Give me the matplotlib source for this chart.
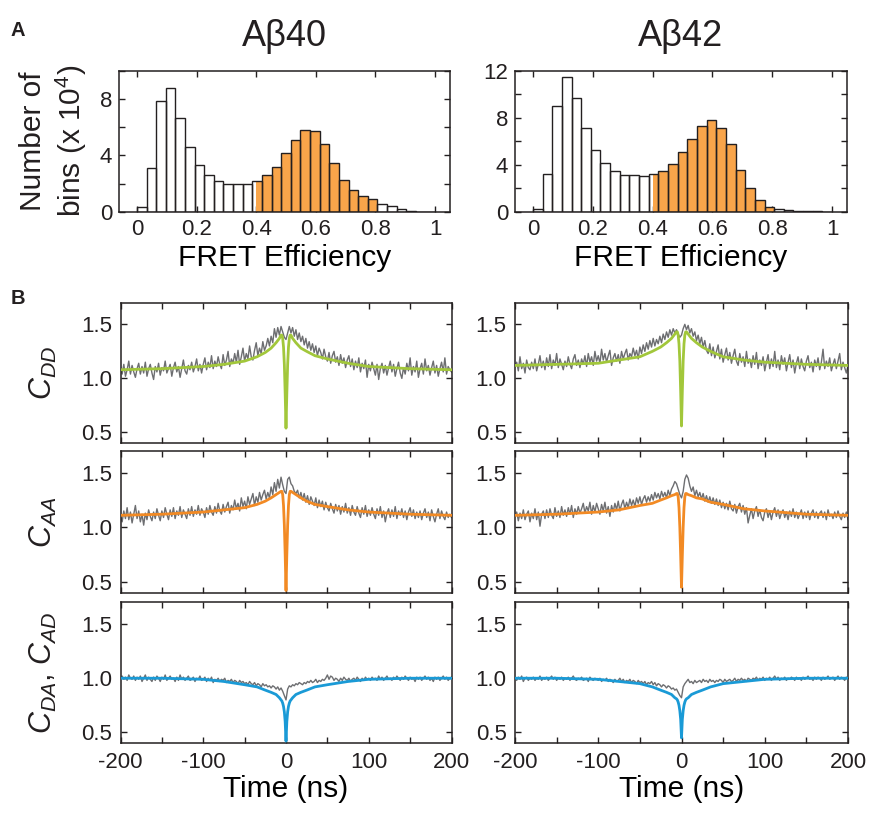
import numpy as np
import matplotlib
matplotlib.use('Agg')
import matplotlib.pyplot as plt
from matplotlib.patches import Rectangle

plt.rcParams.update({
    'font.family': ['Liberation Sans', 'DejaVu Sans'],
    'mathtext.fontset': 'custom',
    'mathtext.rm': 'Liberation Sans',
    'mathtext.it': 'Liberation Sans:italic',
    'axes.linewidth': 1.1,
    'axes.edgecolor': '#231f20',
    'xtick.color': '#231f20',
    'ytick.color': '#231f20',
})

# ---- panel A: FRET efficiency histograms (counts x 10^4, 31 bins on [0, 1]) ----
n_bins = 31
counts_ab40 = [0.33, 3.1, 7.85, 8.8, 6.65, 4.6, 3.3, 2.6, 2.2, 2.0, 2.0, 2.0, 2.2, 2.6, 3.2, 4.2,
               5.1, 5.8, 5.7, 4.8, 3.5, 2.25, 1.55, 1.15, 0.9, 0.6, 0.4, 0.2, 0.1, 0.0, 0.0]
counts_ab42 = [0.25, 3.2, 9.0, 11.45, 9.65, 7.1, 5.25, 4.15, 3.45, 3.15, 3.1, 3.05, 3.2, 3.5, 4.1, 5.1,
               6.2, 7.3, 7.85, 7.15, 5.75, 3.6, 2.0, 1.0, 0.45, 0.22, 0.15, 0.1, 0.05, 0.05, 0.0]
high_fret = (0.40, 0.806)

# ---- panel B: correlation traces, 2 ns steps from -200 to 200 ns ----
time_ns = np.arange(-200, 201, 2)

cdd_ab40 = [
    1.10, 1.04, 1.13, 1.02, 1.08, 1.16, 1.04, 1.12, 1.06, 1.01,
    1.09, 1.14, 1.04, 1.11, 1.05, 1.15, 1.02, 1.09, 1.13, 1.05,
    0.99, 1.11, 1.06, 1.14, 1.03, 1.10, 1.07, 1.16, 1.05, 1.09,
    1.13, 1.02, 1.10, 1.15, 1.06, 1.11, 1.01, 1.09, 1.17, 1.07,
    1.04, 1.12, 1.08, 1.15, 1.06, 1.11, 1.18, 1.07, 1.13, 1.05,
    1.13, 1.19, 1.08, 1.15, 1.10, 1.21, 1.09, 1.16, 1.11, 1.20,
    1.13, 1.09, 1.22, 1.12, 1.17, 1.25, 1.11, 1.18, 1.14, 1.23,
    1.15, 1.26, 1.13, 1.20, 1.28, 1.16, 1.23, 1.18, 1.30, 1.20,
    1.17, 1.26, 1.33, 1.21, 1.28, 1.23, 1.34, 1.26, 1.30, 1.37,
    1.30, 1.39, 1.33, 1.46, 1.38, 1.47, 1.40, 1.48, 1.43, 1.38,
    1.36,
    1.42, 1.48, 1.42, 1.47, 1.39, 1.45, 1.36, 1.42, 1.34, 1.39,
    1.31, 1.37, 1.28, 1.34, 1.26, 1.32, 1.24, 1.30, 1.21, 1.28,
    1.24, 1.18, 1.27, 1.20, 1.16, 1.24, 1.14, 1.21, 1.25, 1.15,
    1.20, 1.12, 1.22, 1.14, 1.19, 1.10, 1.17, 1.21, 1.11, 1.18,
    1.08, 1.16, 1.10, 1.19, 1.06, 1.14, 1.09, 1.17, 1.01, 1.13,
    1.07, 1.15, 1.09, 1.03, 1.13, 0.99, 1.09, 1.14, 1.05, 1.12,
    1.03, 1.10, 1.16, 1.06, 1.13, 1.02, 1.09, 1.15, 1.05, 1.00,
    1.10, 1.04, 1.14, 1.07, 1.19, 1.03, 1.11, 1.06, 1.16, 1.01,
    1.09, 1.14, 1.04, 1.18, 1.07, 1.12, 1.03, 1.10, 1.16, 1.05,
    1.12, 1.02, 1.09, 1.15, 1.06, 1.19, 1.04, 1.11, 1.08, 1.06,
]
cdd_ab42 = [
    1.11, 1.15, 1.07, 1.20, 1.09, 1.14, 1.05, 1.17, 1.10, 1.08,
    1.15, 1.09, 1.18, 1.07, 1.13, 1.21, 1.10, 1.16, 1.08, 1.19,
    1.11, 1.22, 1.09, 1.17, 1.12, 1.23, 1.10, 1.18, 1.13, 1.08,
    1.16, 1.11, 1.20, 1.13, 1.09, 1.18, 1.22, 1.12, 1.17, 1.10,
    1.18, 1.13, 1.21, 1.11, 1.23, 1.15, 1.20, 1.12, 1.25, 1.16,
    1.21, 1.14, 1.27, 1.17, 1.23, 1.15, 1.21, 1.26, 1.12, 1.19,
    1.23, 1.16, 1.22, 1.14, 1.25, 1.18, 1.23, 1.27, 1.17, 1.23,
    1.20, 1.28, 1.21, 1.26, 1.18, 1.29, 1.23, 1.31, 1.25, 1.33,
    1.27, 1.35, 1.29, 1.37, 1.30, 1.36, 1.32, 1.39, 1.33, 1.41,
    1.36, 1.43, 1.38, 1.45, 1.40, 1.46, 1.42, 1.45, 1.41, 1.38,
    1.40,
    1.46, 1.50, 1.45, 1.49, 1.42, 1.46, 1.39, 1.43, 1.35, 1.40,
    1.32, 1.38, 1.29, 1.35, 1.26, 1.23, 1.32, 1.21, 1.29, 1.19,
    1.25, 1.31, 1.18, 1.27, 1.15, 1.22, 1.28, 1.17, 1.24, 1.14,
    1.21, 1.27, 1.16, 1.12, 1.23, 1.15, 1.20, 1.11, 1.25, 1.14,
    1.18, 1.10, 1.21, 1.13, 1.24, 1.09, 1.17, 1.12, 1.20, 1.07,
    1.15, 1.22, 1.09, 1.18, 1.11, 1.25, 1.10, 1.17, 1.08, 1.21,
    1.13, 1.19, 1.07, 1.15, 1.22, 1.10, 1.17, 1.05, 1.14, 1.20,
    1.09, 1.18, 1.11, 1.07, 1.16, 1.21, 1.10, 1.15, 1.06, 1.17,
    1.11, 1.19, 1.08, 1.15, 1.27, 1.09, 1.16, 1.11, 1.19, 1.07,
    1.13, 1.18, 1.09, 1.16, 1.23, 1.08, 1.15, 1.10, 1.05, 1.12,
]
caa_ab40 = [
    1.10, 1.05, 1.15, 1.08, 1.18, 1.07, 1.14, 1.04, 1.12, 1.20,
    1.08, 1.15, 1.05, 1.12, 1.02, 1.13, 1.07, 1.16, 1.10, 1.06,
    1.14, 1.08, 1.17, 1.11, 1.06, 1.15, 1.09, 1.18, 1.12, 1.07,
    1.16, 1.10, 1.18, 1.08, 1.15, 1.11, 1.19, 1.09, 1.16, 1.12,
    1.08, 1.17, 1.11, 1.19, 1.10, 1.16, 1.12, 1.20, 1.11, 1.17,
    1.14, 1.09, 1.18, 1.12, 1.20, 1.14, 1.11, 1.19, 1.13, 1.22,
    1.15, 1.12, 1.21, 1.14, 1.19, 1.23, 1.13, 1.20, 1.16, 1.25,
    1.17, 1.22, 1.15, 1.27, 1.19, 1.24, 1.17, 1.28, 1.21, 1.26,
    1.31, 1.20, 1.28, 1.23, 1.32, 1.25, 1.30, 1.34, 1.26, 1.32,
    1.27, 1.37, 1.30, 1.41, 1.33, 1.44, 1.36, 1.46, 1.39, 1.33,
    1.31,
    1.44, 1.46, 1.40, 1.38, 1.33, 1.31, 1.34, 1.27, 1.32, 1.25,
    1.31, 1.23, 1.29, 1.21, 1.28, 1.24, 1.20, 1.27, 1.18, 1.25,
    1.19, 1.24, 1.16, 1.23, 1.18, 1.15, 1.22, 1.17, 1.13, 1.21,
    1.15, 1.20, 1.12, 1.19, 1.14, 1.22, 1.13, 1.18, 1.11, 1.20,
    1.14, 1.11, 1.19, 1.13, 1.09, 1.18, 1.12, 1.20, 1.10, 1.16,
    1.11, 1.18, 1.12, 1.08, 1.17, 1.11, 1.19, 1.09, 1.15, 1.05,
    1.13, 1.17, 1.09, 1.16, 1.10, 1.19, 1.08, 1.15, 1.11, 1.17,
    1.09, 1.15, 1.07, 1.14, 1.18, 1.10, 1.16, 1.08, 1.14, 1.09,
    1.15, 1.07, 1.13, 1.17, 1.09, 1.14, 1.06, 1.16, 1.10, 1.05,
    1.12, 1.17, 1.08, 1.15, 1.10, 1.07, 1.14, 1.09, 1.12, 1.09,
]
caa_ab42 = [
    1.10, 1.14, 1.06, 1.13, 1.08, 1.16, 1.07, 1.12, 1.15, 1.05,
    1.13, 1.08, 1.17, 1.07, 1.14, 1.01, 1.12, 1.15, 1.08, 1.16,
    1.09, 1.17, 1.11, 1.08, 1.18, 1.10, 1.15, 1.09, 1.19, 1.11,
    1.16, 1.10, 1.18, 1.12, 1.20, 1.09, 1.17, 1.12, 1.19, 1.13,
    1.17, 1.22, 1.13, 1.19, 1.15, 1.23, 1.12, 1.20, 1.14, 1.22,
    1.17, 1.12, 1.21, 1.15, 1.23, 1.13, 1.19, 1.10, 1.20, 1.14,
    1.22, 1.16, 1.24, 1.15, 1.21, 1.25, 1.17, 1.23, 1.18, 1.26,
    1.20, 1.25, 1.19, 1.27, 1.22, 1.28, 1.21, 1.26, 1.29, 1.23,
    1.28, 1.24, 1.30, 1.25, 1.32, 1.27, 1.31, 1.26, 1.33, 1.28,
    1.32, 1.27, 1.34, 1.29, 1.35, 1.38, 1.42, 1.40, 1.35, 1.30,
    1.27,
    1.33, 1.44, 1.48, 1.45, 1.38, 1.33, 1.37, 1.29, 1.34, 1.28,
    1.32, 1.26, 1.31, 1.24, 1.29, 1.23, 1.28, 1.22, 1.27, 1.21,
    1.26, 1.20, 1.25, 1.18, 1.23, 1.17, 1.22, 1.16, 1.24, 1.17,
    1.15, 1.21, 1.13, 1.19, 1.22, 1.14, 1.20, 1.12, 1.18, 1.04,
    1.11, 1.17, 1.08, 1.15, 1.19, 1.10, 1.16, 1.09, 1.06, 1.14,
    1.17, 1.09, 1.15, 1.07, 1.14, 1.18, 1.10, 1.16, 1.08, 1.13,
    1.16, 1.09, 1.14, 1.07, 1.15, 1.10, 1.17, 1.09, 1.14, 1.08,
    1.12, 1.16, 1.08, 1.14, 1.09, 1.15, 1.07, 1.13, 1.16, 1.09,
    1.14, 1.08, 1.13, 1.15, 1.09, 1.14, 1.07, 1.16, 1.10, 1.12,
    1.08, 1.14, 1.09, 1.15, 1.10, 1.07, 1.13, 1.09, 1.14, 1.07,
]
cda_ab40 = [
    1.00, 1.02, 0.99, 1.01, 0.98, 1.03, 1.00, 0.99, 1.02, 0.98,
    1.01, 0.99, 1.02, 0.97, 1.00, 1.03, 0.98, 1.01, 0.99, 0.97,
    1.01, 0.98, 1.02, 1.00, 0.97, 1.01, 0.99, 1.03, 0.98, 1.00,
    1.02, 0.99, 1.00, 0.97, 1.01, 0.98, 1.03, 0.99, 1.01, 0.98,
    1.00, 1.02, 0.98, 0.99, 1.01, 0.97, 1.00, 0.99, 1.02, 0.98,
    0.99, 1.01, 0.97, 1.00, 0.98, 1.01, 0.96, 0.99, 0.98, 1.00,
    0.97, 0.99, 0.98, 1.00, 0.96, 0.98, 0.97, 0.99, 0.96, 0.98,
    0.97, 0.95, 0.98, 0.96, 0.97, 0.95, 0.96, 0.94, 0.97, 0.95,
    0.94, 0.96, 0.93, 0.95, 0.94, 0.92, 0.95, 0.93, 0.94, 0.92,
    0.93, 0.91, 0.93, 0.92, 0.90, 0.92, 0.89, 0.91, 0.88, 0.84,
    0.80,
    0.90, 0.93, 0.92, 0.94, 0.93, 0.95, 0.94, 0.96, 0.95, 0.94,
    0.96, 0.95, 0.97, 0.96, 0.98, 0.96, 0.97, 0.99, 0.96, 0.98,
    0.97, 0.99, 0.98, 1.00, 1.03, 0.99, 1.02, 1.01, 0.98, 1.00,
    0.99, 0.97, 1.00, 0.98, 1.01, 0.99, 0.98, 1.00, 0.97, 0.99,
    1.00, 0.98, 1.01, 0.99, 0.97, 1.00, 0.98, 1.01, 0.99, 1.00,
    0.98, 1.01, 0.99, 1.00, 0.98, 1.02, 0.99, 1.01, 0.98, 1.00,
    1.02, 0.99, 1.00, 0.98, 1.01, 0.99, 1.02, 1.00, 0.98, 1.01,
    0.99, 1.02, 1.00, 0.98, 1.01, 0.99, 1.00, 0.97, 1.01, 0.99,
    1.01, 0.98, 1.00, 1.02, 0.99, 1.01, 0.98, 1.00, 0.97, 1.01,
    0.99, 1.01, 0.98, 1.00, 1.02, 0.99, 1.01, 0.98, 1.00, 1.01,
]
cda_ab42 = [
    1.00, 0.98, 1.01, 0.99, 1.02, 0.97, 1.00, 1.01, 0.98, 1.00,
    0.99, 1.01, 0.98, 1.00, 0.99, 1.02, 0.98, 1.00, 0.99, 1.01,
    0.98, 1.00, 1.02, 0.99, 1.01, 0.98, 1.00, 0.99, 1.01, 0.98,
    1.00, 0.99, 1.01, 0.98, 1.00, 1.02, 0.99, 0.98, 1.00, 0.99,
    1.01, 0.98, 0.99, 1.00, 0.97, 1.01, 0.99, 0.98, 1.00, 0.99,
    0.98, 1.00, 0.97, 0.99, 0.98, 1.00, 0.97, 0.99, 0.98, 0.96,
    0.99, 0.97, 0.98, 1.00, 0.97, 0.99, 0.96, 0.98, 0.97, 0.99,
    0.96, 0.98, 0.97, 0.95, 0.98, 0.96, 0.97, 0.95, 0.97, 0.94,
    0.96, 0.95, 0.97, 0.94, 0.96, 0.93, 0.95, 0.94, 0.92, 0.94,
    0.93, 0.91, 0.93, 0.92, 0.90, 0.91, 0.89, 0.90, 0.87, 0.84,
    0.82,
    0.92, 0.95, 0.97, 0.99, 0.96, 0.97, 0.95, 0.98, 0.96, 0.97,
    0.98, 0.96, 0.99, 0.97, 0.98, 0.96, 0.99, 0.97, 0.98, 0.96,
    0.98, 0.97, 0.99, 0.98, 0.96, 0.99, 0.97, 0.98, 0.99, 0.97,
    0.98, 1.00, 0.97, 0.99, 0.98, 1.00, 0.98, 0.99, 0.97, 1.00,
    0.99, 0.98, 1.00, 0.99, 1.01, 0.98, 1.00, 0.99, 1.01, 0.98,
    1.00, 0.99, 1.01, 0.98, 1.00, 1.02, 0.99, 1.01, 0.98, 1.00,
    0.99, 1.01, 0.98, 1.00, 0.99, 1.01, 1.00, 0.98, 1.01, 0.99,
    1.00, 0.98, 1.01, 0.99, 1.00, 1.02, 0.99, 1.00, 0.98, 1.01,
    0.99, 1.01, 1.00, 0.98, 1.01, 0.99, 1.00, 1.02, 0.99, 1.00,
    1.01, 0.98, 1.00, 1.02, 0.99, 1.01, 1.00, 0.98, 1.01, 1.00,
]

# fitted curves, sampled at these times (ns)
fit_time = [-200, -150, -100, -75, -50, -35, -25, -18, -12, -8, -6, -5, -4, -3, -2, -1, 0,
            1, 2, 3, 4, 5, 6, 8, 12, 18, 25, 35, 50, 75, 100, 150, 200]
fit_cdd_ab40 = [1.08, 1.09, 1.11, 1.13, 1.16, 1.20, 1.24, 1.28, 1.33, 1.37, 1.40, 1.40, 1.37, 1.29, 1.13, 0.86, 0.54,
                0.86, 1.13, 1.29, 1.37, 1.40, 1.40, 1.37, 1.33, 1.28, 1.25, 1.21, 1.18, 1.14, 1.11, 1.09, 1.08]
fit_cdd_ab42 = [1.12, 1.13, 1.14, 1.17, 1.20, 1.25, 1.29, 1.33, 1.37, 1.41, 1.43, 1.43, 1.40, 1.32, 1.16, 0.88, 0.56,
                0.88, 1.16, 1.32, 1.40, 1.43, 1.43, 1.41, 1.37, 1.33, 1.29, 1.25, 1.20, 1.17, 1.15, 1.13, 1.12]
fit_caa_ab40 = [1.11, 1.12, 1.14, 1.16, 1.18, 1.21, 1.24, 1.27, 1.30, 1.32, 1.33, 1.33, 1.30, 1.20, 1.02, 0.75, 0.42,
                0.75, 1.02, 1.20, 1.30, 1.33, 1.33, 1.32, 1.30, 1.27, 1.24, 1.21, 1.19, 1.16, 1.14, 1.12, 1.11]
fit_caa_ab42 = [1.11, 1.12, 1.14, 1.16, 1.20, 1.22, 1.25, 1.27, 1.29, 1.30, 1.31, 1.31, 1.28, 1.18, 1.00, 0.74, 0.45,
                0.74, 1.00, 1.18, 1.28, 1.31, 1.31, 1.30, 1.29, 1.27, 1.26, 1.23, 1.21, 1.17, 1.15, 1.12, 1.11]
fit_cda_ab40 = [1.00, 1.00, 0.99, 0.97, 0.94, 0.92, 0.89, 0.87, 0.85, 0.82, 0.80, 0.79, 0.77, 0.74, 0.69, 0.60, 0.42,
                0.60, 0.69, 0.74, 0.77, 0.79, 0.80, 0.82, 0.85, 0.87, 0.89, 0.92, 0.94, 0.97, 0.99, 1.00, 1.00]
fit_cda_ab42 = [1.00, 1.00, 0.99, 0.97, 0.95, 0.92, 0.89, 0.87, 0.85, 0.82, 0.81, 0.80, 0.78, 0.75, 0.70, 0.62, 0.45,
                0.62, 0.70, 0.75, 0.78, 0.80, 0.81, 0.82, 0.85, 0.87, 0.89, 0.92, 0.95, 0.97, 0.99, 1.00, 1.00]

titles = ['A\u03b240', 'A\u03b242']
row_labels = [r'$C_{DD}$', r'$C_{AA}$', r'$C_{DA}$, $C_{AD}$']
fit_colors = ['#a2c73b', '#f28a24', '#1a9ad6']
grey = '#6d6e71'
ink = '#231f20'
bar_orange = '#f9a54a'

W, H = 872, 814


def px_axes(fig, x0, x1, y0, y1):
    # axes placed by pixel edges (top-left origin)
    return fig.add_axes([x0 / W, 1 - y1 / H, (x1 - x0) / W, (y1 - y0) / H])


def style_ticks(ax, pad):
    ax.tick_params(direction='in', top=True, right=True, length=4, width=1.0,
                   labelsize=16, pad=pad)


def histogram(ax, counts, ymax, ylabels):
    w = 1.0 / n_bins
    left = np.arange(n_bins) * w
    ax.bar(left, counts, width=w, align='edge', color='white', edgecolor='none', zorder=1)
    clip = Rectangle((high_fret[0], 0), high_fret[1] - high_fret[0], ymax, transform=ax.transData)
    hi = ax.bar(left, counts, width=w, align='edge', color=bar_orange, edgecolor='none', zorder=2)
    for p in hi:
        p.set_clip_path(clip)
    ax.bar(left, counts, width=w, align='edge', facecolor='none', edgecolor=ink, linewidth=1.0, zorder=3)
    ax.set_xlim(-0.06, 1.05)
    ax.set_ylim(0, ymax)
    ax.set_xticks(np.arange(0, 1.01, 0.2))
    ax.set_xticklabels(['0', '0.2', '0.4', '0.6', '0.8', '1'])
    yt = np.arange(0, ymax + 0.1, 2)
    ax.set_yticks(yt)
    ax.set_yticklabels([f'{v:g}' if v in ylabels else '' for v in yt])
    style_ticks(ax, 5)
    ax.set_xlabel('FRET Efficiency', fontsize=21.5, labelpad=3)
    for s in ax.spines.values():
        s.set_zorder(5)


fig = plt.figure(figsize=(W / 100, H / 100), dpi=100)

cols = [(119, 450), (515, 847)]
hist_counts = [counts_ab40, counts_ab42]
hist_ymax = [10, 12]
hist_labels = [(0, 4, 8), (0, 4, 8, 12)]
for c in range(2):
    ax = px_axes(fig, cols[c][0], cols[c][1], 70.7, 212)
    histogram(ax, hist_counts[c], hist_ymax[c], hist_labels[c])
    fig.text((cols[c][0] + cols[c][1]) / 2 / W, 1 - 36 / H, titles[c], fontsize=26,
             ha='center', va='center', color=ink)

fig.text(54 / W, 1 - 141 / H, 'Number of\nbins (x 10$^4$)', rotation=90, fontsize=21.5,
         ha='center', va='center', color=ink, linespacing=1.22)

traces = [[cdd_ab40, cdd_ab42], [caa_ab40, caa_ab42], [cda_ab40, cda_ab42]]
fits = [[fit_cdd_ab40, fit_cdd_ab42], [fit_caa_ab40, fit_caa_ab42], [fit_cda_ab40, fit_cda_ab42]]
rows = [(302.7, 443.3), (451, 592.7), (602.3, 743.3)]
bcols = [(120.5, 451.5), (515, 848)]
for r in range(3):
    for c in range(2):
        ax = px_axes(fig, bcols[c][0], bcols[c][1], rows[r][0], rows[r][1])
        ax.plot(time_ns, traces[r][c], color=grey, lw=1.0, zorder=2)
        ax.plot(fit_time, fits[r][c], color=fit_colors[r], lw=2.0, zorder=3)
        ax.set_xlim(-200, 200)
        ax.set_ylim(0.4, 1.7)
        ax.set_xticks(np.arange(-200, 201, 50))
        ax.set_yticks([0.5, 1.0, 1.5])
        ax.set_yticklabels(['0.5', '1.0', '1.5'])
        style_ticks(ax, 6)
        if r == 2:
            ax.set_xticklabels(['-200', '', '-100', '', '0', '', '100', '', '200'])
            ax.set_xlabel('Time (ns)', fontsize=21.5, labelpad=2)
        else:
            ax.set_xticklabels([])
    fig.text(43 / W, 1 - (rows[r][0] + rows[r][1]) / 2 / H, row_labels[r], rotation=90,
             fontsize=22, ha='center', va='center', color=ink)

fig.text(18 / W, 1 - 31 / H, 'A', fontsize=14.5, fontweight='bold', ha='center', va='center', color=ink)
fig.text(18 / W, 1 - 298 / H, 'B', fontsize=14.5, fontweight='bold', ha='center', va='center', color=ink)

fig.savefig('out.png', dpi=100)
